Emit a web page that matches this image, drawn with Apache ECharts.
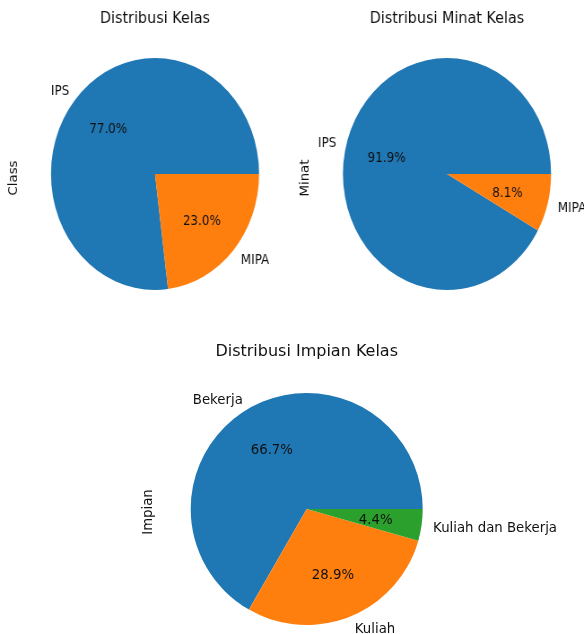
<!DOCTYPE html>
<html>
<head>
<meta charset="utf-8">
<script src="https://cdn.jsdelivr.net/npm/echarts@6/dist/echarts.min.js"></script>
<style>
html,body{margin:0;padding:0;width:584px;height:634px;overflow:hidden;background:#fff;}
#top{position:absolute;left:0;top:0;width:700px;height:320px;transform:scaleX(0.897);transform-origin:0 0;}
#bottom{position:absolute;left:0;top:320px;width:584px;height:314px;}
</style>
</head>
<body>
<div id="top"></div>
<div id="bottom"></div>
<script>
// ---- data ----
const kelasCategories = ['IPS', 'MIPA'];
const kelasValues = [77.0, 23.0];
const minatCategories = ['IPS', 'MIPA'];
const minatValues = [91.9, 8.1];
const impianCategories = ['Bekerja', 'Kuliah', 'Kuliah dan Bekerja'];
const impianValues = [66.7, 28.9, 4.4];
const titles = ['Distribusi Kelas', 'Distribusi Minat Kelas', 'Distribusi Impian Kelas'];
const yLabels = ['Class', 'Minat', 'Impian'];

const COLORS = ['#1f77b4', '#ff7f0e', '#2ca02c'];
const FONT = 'DejaVu Sans';
const TXT = '#111';
const LBL = 13.3;
const TTL = 16;

function pieSeries(names, values, center, r) {
  const data = names.map((n, i) => ({ name: n, value: values[i] }));
  return [
    {
      type: 'pie', center: center, radius: [0, r], startAngle: 0, clockwise: false,
      avoidLabelOverlap: false, silent: true, animation: false,
      itemStyle: { borderWidth: 0 },
      label: { show: true, position: 'outside', formatter: '{b}', fontSize: LBL, fontFamily: FONT, color: TXT, distanceToLabelLine: 0, offset: [0, 2] },
      labelLine: { show: false, length: r * 0.1, length2: 0 },
      emphasis: { disabled: true },
      data: data
    },
    {
      // transparent helper ring: ECharts puts 'inside' labels near the ring's mid-radius,
      // so this places the percentages at about 0.6 of the pie radius, as matplotlib does
      type: 'pie', center: center, radius: [0, r * 1.2 - 6], startAngle: 0, clockwise: false,
      avoidLabelOverlap: false, silent: true, animation: false,
      itemStyle: { color: 'rgba(0,0,0,0)', borderWidth: 0 },
      label: { show: true, position: 'inside', formatter: p => p.percent.toFixed(1) + '%', fontSize: LBL, fontFamily: FONT, color: TXT, offset: [0, 2] },
      labelLine: { show: false },
      emphasis: { disabled: true },
      data: data
    }
  ];
}

function yText(text, x, y) {
  return { type: 'text', x: x, y: y, rotation: Math.PI / 2,
    style: { text: text, fill: TXT, font: LBL + 'px "' + FONT + '"', textAlign: 'center', textVerticalAlign: 'middle' } };
}

function titleAt(text, x, top) {
  return { text: text, left: x, top: top, padding: 0, textAlign: 'center',
    textStyle: { fontFamily: FONT, fontSize: TTL, fontWeight: 'normal', color: TXT } };
}

const S = 0.897;
const topChart = echarts.init(document.getElementById('top'), null, { renderer: 'canvas' });
const R1 = 116;
const c1 = [155 / S, 174];
const c2 = [447 / S, 174];
topChart.setOption({
  animation: false,
  color: COLORS,
  title: [titleAt(titles[0], c1[0], 11), titleAt(titles[1], c2[0], 11)],
  graphic: [yText(yLabels[0], 13.7 / S, 178), yText(yLabels[1], 305.3 / S, 178)],
  series: [].concat(pieSeries(kelasCategories, kelasValues, c1, R1), pieSeries(minatCategories, minatValues, c2, R1))
});

const botChart = echarts.init(document.getElementById('bottom'), null, { renderer: 'canvas' });
const c3 = [306.7, 189];
botChart.setOption({
  animation: false,
  color: COLORS,
  title: [titleAt(titles[2], c3[0], 24)],
  graphic: [yText(yLabels[2], 149, 192)],
  series: pieSeries(impianCategories, impianValues, c3, 116)
});
</script>
</body>
</html>
